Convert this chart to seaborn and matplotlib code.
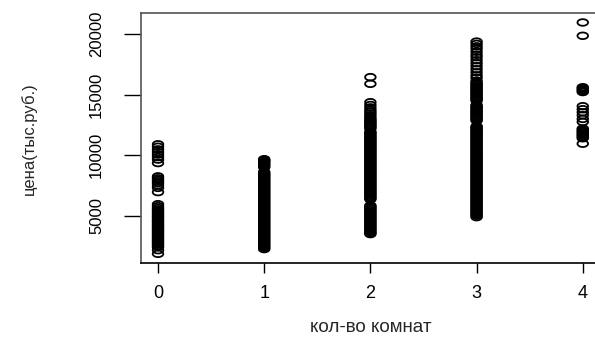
import numpy as np
import pandas as pd
import matplotlib
matplotlib.use("Agg")
import matplotlib.pyplot as plt
from matplotlib.path import Path
import seaborn as sns

# price (thousand rub.) per flat, grouped by number of rooms
rooms_0 = [10900, 10700, 10480, 10260, 10050, 9850, 9640, 9350,
           8250, 8090, 7960, 7840, 7690, 7510, 7300, 6950,
           5950, 5790, 5640, 5510, 5400, 5310, 5200, 5090, 4990, 4900,
           4810, 4700, 4590, 4500, 4410, 4290, 4200, 4110, 4000, 3900,
           3810, 3700, 3600, 3510, 3400, 3290, 3200, 3110, 3000, 2900,
           2810, 2700, 2610, 2500, 2400, 2150, 1850]
rooms_1 = [2240, 2330, 2410, 2500, 2590, 2680, 2770, 2850, 2940, 3030,
           3120, 3200, 3290, 3380, 3470, 3550, 3640, 3730, 3820, 3900,
           3990, 4080, 4170, 4250, 4340, 4430, 4520, 4600, 4690, 4780,
           4870, 4950, 5040, 5130, 5220, 5300, 5390, 5480, 5570, 5650,
           5740, 5830, 5920, 6000, 6090, 6180, 6270, 6350, 6440, 6530,
           6620, 6700, 6790, 6880, 6970, 7050, 7140, 7230, 7320, 7400,
           7490, 7580, 7670, 7750, 7840, 7930, 8020, 8100, 8190, 8280,
           8370, 8450, 8540, 8630,
           9000, 9090, 9180, 9270, 9360, 9450, 9540, 9600, 9670]
rooms_2 = [16450, 15900,
           14380, 14150, 13950, 13750, 13600, 13450, 13300, 13150, 13000,
           12900, 12800, 12710, 12600, 12500, 12400, 12300, 12200, 11950,
           11850, 11760, 11650, 11550, 11450, 11350, 11260, 11150, 11050,
           10950, 10850, 10760, 10650, 10550, 10450, 10350, 10260, 10150,
           10050, 9950, 9850, 9760, 9650, 9550, 9450, 9350, 9260, 9150,
           9050, 8950, 8850, 8760, 8650, 8550, 8450, 8350, 8260, 8150,
           8050, 7950, 7850, 7760, 7650, 7550, 7450, 7350, 7260, 7150,
           7050, 6950, 6850, 6760, 6650, 6550, 6450, 6350,
           5850, 5750, 5650, 5560, 5450, 5350, 5250, 5150, 5060, 4950,
           4850, 4750, 4650, 4560, 4450, 4350, 4250, 4150, 4060, 3950,
           3850, 3750, 3650, 3560, 3480]
rooms_3 = [19390, 19200, 19000, 18800, 18550, 18300, 18100, 17850, 17600,
           17350, 17100, 16850, 16600, 16400, 16150,
           16000, 15900, 15810, 15700, 15600, 15500, 15410, 15300, 15200,
           15100, 15010, 14900, 14800, 14700, 14610, 14500, 14150, 14050,
           13950, 13860, 13750, 13650, 13550, 13460, 13350, 13250, 13150,
           13060, 12950, 12850,
           12400, 12300, 12200, 12100, 12010, 11900, 11800, 11700, 11610,
           11500, 11400, 11300, 11210, 11100, 11000, 10900, 10810, 10700,
           10600, 10500, 10410, 10300, 10200, 10100, 10010, 9900, 9800,
           9700, 9610, 9500, 9400, 9300, 9210, 9100, 9000, 8900, 8810,
           8700, 8600, 8500, 8410, 8300, 8200, 8100, 8010, 7900, 7800,
           7700, 7610, 7500, 7400, 7300, 7210, 7100, 7000, 6900, 6810,
           6700, 6600, 6500, 6410, 6300, 6200, 6100, 6010, 5900, 5800,
           5700, 5610, 5500, 5400, 5300, 5210, 5100, 5000, 4880]
rooms_4 = [20970, 19870,
           15620, 15520, 15420, 15320, 15220,
           14050, 13800, 13550, 13300, 13000, 12750,
           12200, 12100, 12000, 11900, 11800, 11700, 11600, 11500, 11400,
           10950]

room_counts = [0, 1, 2, 3, 4]
x_ticks = [0, 1, 2, 3, 4]
y_ticks = [5000, 10000, 15000, 20000]
x_label = "кол-во комнат"
y_label = "цена(тыс.руб.)"

groups = [rooms_0, rooms_1, rooms_2, rooms_3, rooms_4]
df = pd.DataFrame({
    "rooms": np.concatenate([[r] * len(g) for r, g in zip(room_counts, groups)]),
    "price": np.concatenate(groups),
})

sns.set_style("ticks")
plt.rcParams["font.family"] = ["Liberation Sans", "DejaVu Sans"]

# open circle, stretched sideways like the original picture
t = np.linspace(0, 2 * np.pi, 61)
ellipse = Path(np.column_stack([1.6 * np.cos(t), np.sin(t)]), closed=True)

fig = plt.figure(figsize=(5.95, 3.39), dpi=100)
ax = fig.add_axes([0.237, 0.224, 0.771, 0.737])

sns.scatterplot(data=df, x="rooms", y="price", marker=ellipse, s=58,
                facecolor="none", edgecolor="black", linewidth=1.3, ax=ax)

# R style axis limits: 4% padding on each side
lo, hi = df["price"].min(), df["price"].max()
pad = 0.04 * (hi - lo)
ax.set_ylim(lo - pad, hi + pad)
ax.set_xlim(-0.16, 4.16)

ax.set_xticks(x_ticks)
ax.set_yticks(y_ticks)
ax.set_xticklabels([str(v) for v in x_ticks])
ax.set_yticklabels([str(v) for v in y_ticks], rotation=90, va="center")
ax.tick_params(axis="x", length=7.2, width=1.0, pad=8.6, labelsize=13, colors="black")
ax.tick_params(axis="y", length=12, width=1.0, pad=14.5, labelsize=12, colors="black")

for side in ["left", "right", "top", "bottom"]:
    ax.spines[side].set_color("#555555")
    ax.spines[side].set_linewidth(1.2)
ax.spines["bottom"].set_color("black")

ax.set_xlabel(x_label, fontsize=13.5)
ax.set_ylabel(y_label, fontsize=12)
ax.xaxis.set_label_coords(0.5, -0.225)
ax.yaxis.set_label_coords(-0.227, 0.5)

fig.savefig("out.png", dpi=100)
